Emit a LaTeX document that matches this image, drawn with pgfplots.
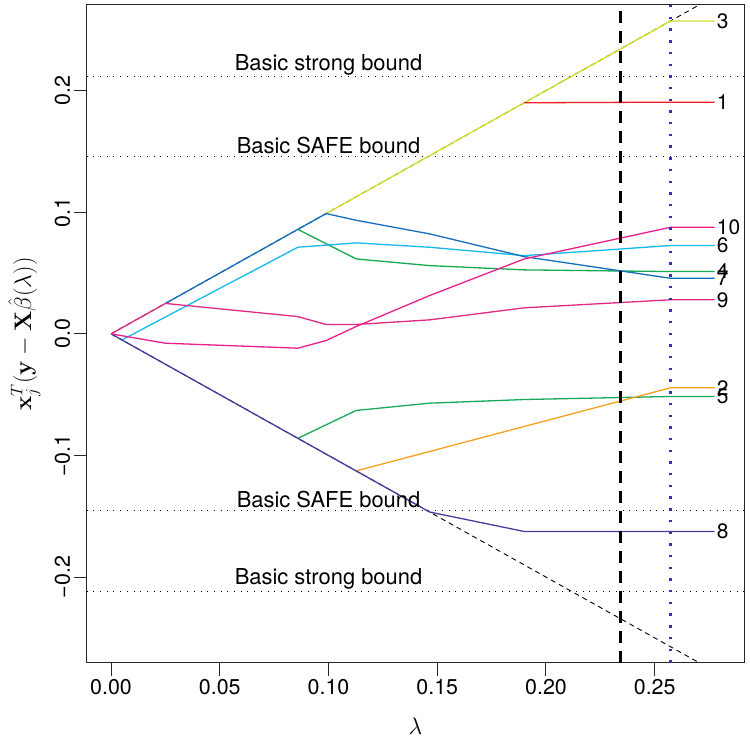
\RequirePackage{fix-cm}
\documentclass[border=0pt]{standalone}
\usepackage[no-math]{fontspec}
\setmainfont{TeX Gyre Heros}
\usepackage{pgfplots}
\pgfplotsset{compat=1.18}
\definecolor{cA}{RGB}{235,30,35}
\definecolor{cB}{RGB}{248,160,30}
\definecolor{cC}{RGB}{210,225,40}
\definecolor{cD}{RGB}{20,170,80}
\definecolor{cE}{RGB}{20,170,90}
\definecolor{cF}{RGB}{20,185,235}
\definecolor{cG}{RGB}{20,110,190}
\definecolor{cH}{RGB}{70,60,160}
\definecolor{cI}{RGB}{225,40,130}
\definecolor{cJ}{RGB}{235,30,140}
\definecolor{vblue}{RGB}{50,50,170}
\begin{document}
\begin{tikzpicture}
\begin{axis}[
  scale only axis, width=657.6bp, height=657.7bp,
  xmin=-0.0112, xmax=0.2912, ymin=-0.2704, ymax=0.2704,
  axis line style={line width=1bp, black!85},
  tick pos=left, tick align=outside, major tick length=13bp,
  tick style={line width=1bp, black!85},
  xtick={0,0.05,0.1,0.15,0.2,0.25},
  xticklabels={0.00,0.05,0.10,0.15,0.20,0.25},
  ytick={-0.2,-0.1,0,0.1,0.2},
  yticklabels={−0.2,−0.1,0.0,0.1,0.2},
  /pgf/number format/assume math mode=true,
  ticklabel style={font=\fontsize{21.5}{25}\selectfont},
  yticklabel style={rotate=90, anchor=south},
  xticklabel style={anchor=north},
  xlabel={$\lambda$},
  ylabel={$\mathbf{x}_j^T(\mathbf{y}-\mathbf{X}\hat{\beta}(\lambda))$},
  label style={font=\fontsize{24}{28}\selectfont},
  xlabel style={at={(axis description cs:0.5,-0.097)}, anchor=center},
  ylabel style={at={(axis description cs:-0.095,0.5)}, anchor=center},
  every axis plot/.append style={line width=1.3bp},
  clip=true,
]
% envelope lines y = +/- lambda
\addplot[black, line width=0.9bp, dash pattern=on 5bp off 4bp] coordinates {(0,0) (0.30,0.30)};
\addplot[black, line width=0.9bp, dash pattern=on 5bp off 4bp] coordinates {(0,0) (0.30,-0.30)};
% bounds
\addplot[black, line width=0.9bp, dash pattern=on 1bp off 5.7bp] coordinates {(-0.0112,0.2115) (0.2912,0.2115)};
\addplot[black, line width=0.9bp, dash pattern=on 1bp off 5.7bp] coordinates {(-0.0112,0.1455) (0.2912,0.1455)};
\addplot[black, line width=0.9bp, dash pattern=on 1bp off 5.7bp] coordinates {(-0.0112,-0.1455) (0.2912,-0.1455)};
\addplot[black, line width=0.9bp, dash pattern=on 1bp off 5.7bp] coordinates {(-0.0112,-0.2115) (0.2912,-0.2115)};
% series
\addplot[cC] coordinates {(0.0989,0.0989) (0.2572,0.2572) (0.2776,0.2572)};
\addplot[cA] coordinates {(0.19,0.19) (0.2572,0.1905) (0.2776,0.1905)};
\addplot[cD] coordinates {(0.0859,0.0859) (0.1127,0.0616) (0.1465,0.0561) (0.19,0.0526) (0.2572,0.0512) (0.2776,0.0512)};
\addplot[cF] coordinates {(0.005,-0.005) (0.0859,0.0712) (0.1127,0.0748) (0.1465,0.0712) (0.19,0.0643) (0.2572,0.0726) (0.2776,0.0726)};
\addplot[cG] coordinates {(0.025,0.025) (0.0859,0.0859) (0.0989,0.0989) (0.1127,0.0934) (0.1465,0.0822) (0.19,0.0635) (0.2572,0.0457) (0.2776,0.0457)};
\addplot[cE] coordinates {(0.0859,-0.0859) (0.1127,-0.0630) (0.1465,-0.0570) (0.19,-0.0540) (0.2572,-0.0515) (0.2776,-0.0515)};
\addplot[cB] coordinates {(0.1127,-0.1127) (0.2572,-0.0444) (0.2776,-0.0444)};
\addplot[cH] coordinates {(0,0) (0.1465,-0.1465) (0.19,-0.1625) (0.2572,-0.1625) (0.2776,-0.1625)};
\addplot[cI] coordinates {(0,0) (0.025,0.025) (0.0859,0.0142) (0.0989,0.0077) (0.1127,0.0077) (0.1465,0.0115) (0.19,0.0214) (0.2572,0.0280) (0.2776,0.0280)};
\addplot[cJ] coordinates {(0,0) (0.025,-0.0077) (0.0859,-0.0118) (0.0989,-0.0055) (0.1127,0.0060) (0.1465,0.0315) (0.19,0.0616) (0.2572,0.0876) (0.2776,0.0876)};
% vertical lines
\addplot[black, line width=2.6bp, dash pattern=on 12bp off 8bp] coordinates {(0.2344,-0.2704) (0.2344,0.2704)};
\addplot[vblue, line width=2.6bp, dash pattern=on 2.4bp off 9.3bp] coordinates {(0.2572,-0.2704) (0.2572,0.2704)};
% texts
\begin{scope}[every node/.style={font=\fontsize{22}{26}\selectfont, inner sep=0pt}]
\node[anchor=base] at (axis cs:0.1,0.2164) {Basic strong bound};
\node[anchor=base] at (axis cs:0.1,0.1484) {Basic SAFE bound};
\node[anchor=base] at (axis cs:0.1,-0.1430) {Basic SAFE bound};
\node[anchor=base] at (axis cs:0.1,-0.2060) {Basic strong bound};
\end{scope}
\begin{scope}[every node/.style={font=\fontsize{21}{25}\selectfont, inner sep=0pt, anchor=west, xshift=2bp}]
\node at (axis cs:0.2776,0.1905) {1};
\node at (axis cs:0.2776,-0.0444) {2};
\node at (axis cs:0.2776,0.2572) {3};
\node at (axis cs:0.2776,0.0512) {4};
\node at (axis cs:0.2776,-0.0515) {5};
\node at (axis cs:0.2776,0.0726) {6};
\node at (axis cs:0.2776,0.0457) {7};
\node at (axis cs:0.2776,-0.1625) {8};
\node at (axis cs:0.2776,0.0280) {9};
\node at (axis cs:0.2776,0.0876) {10};
\end{scope}
\end{axis}
\path (current axis.south west) ++(-86.7bp,-76.3bp) coordinate (bbA);
\path (current axis.north east) ++(5.7bp,5bp) coordinate (bbB);
\path[use as bounding box] (bbA) rectangle (bbB);
\end{tikzpicture}
\end{document}
